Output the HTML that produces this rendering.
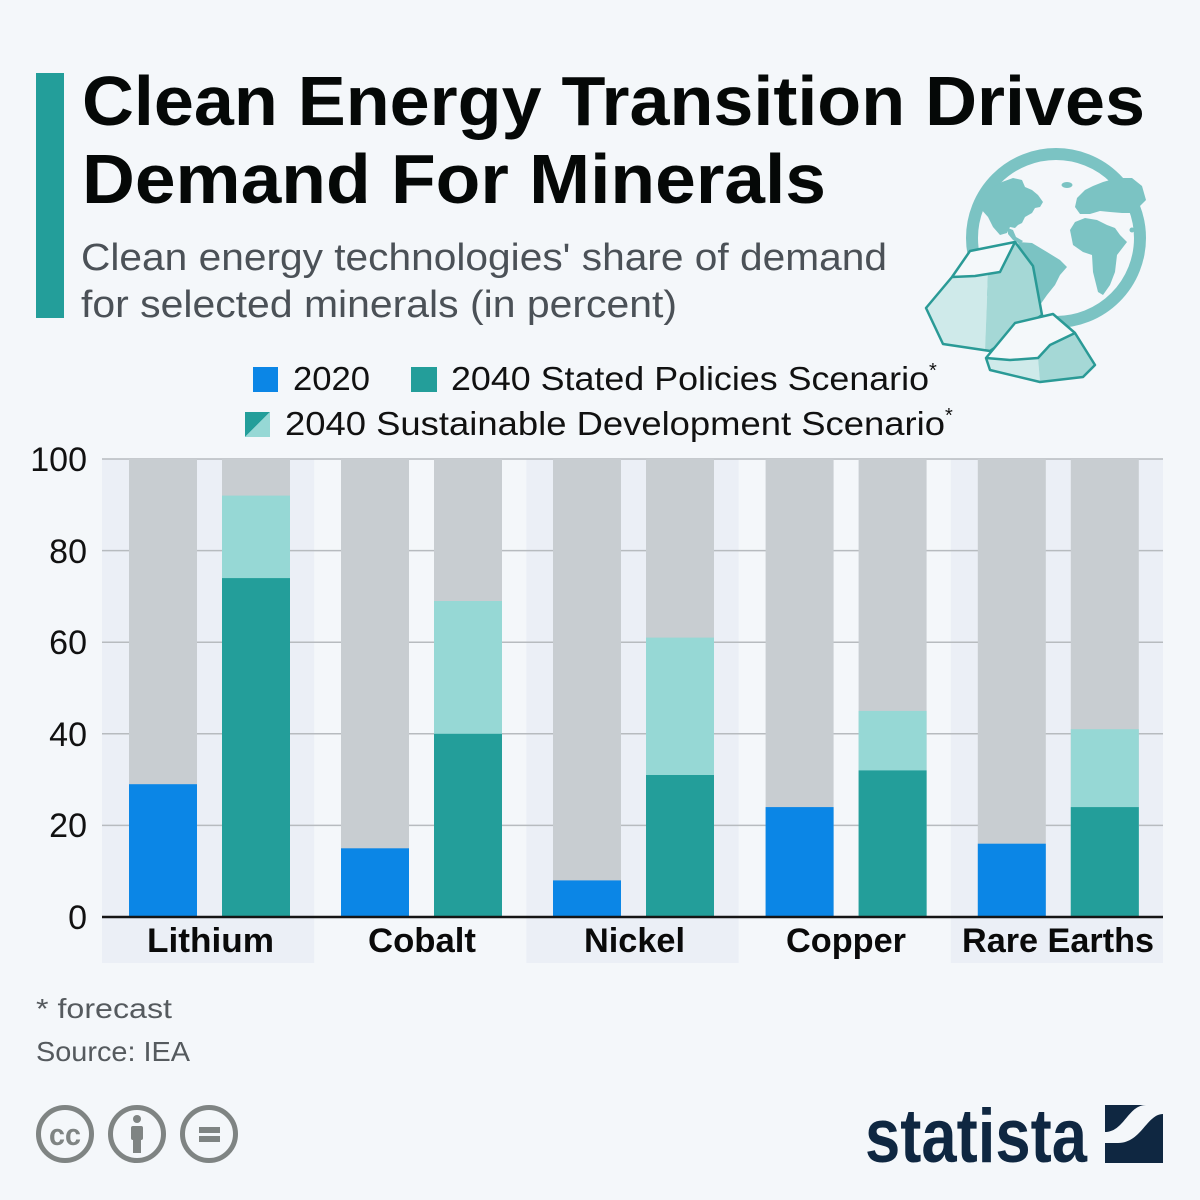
<!DOCTYPE html>
<html>
<head>
<meta charset="utf-8">
<style>
html,body{margin:0;padding:0;background:#f4f7fa;}
svg{display:block;}
text{font-family:"Liberation Sans",sans-serif;}
</style>
</head>
<body>
<svg width="1200" height="1200" viewBox="0 0 1200 1200" xmlns="http://www.w3.org/2000/svg">
<rect x="0" y="0" width="1200" height="1200" fill="#f4f7fa"/>

<!-- Title block -->
<rect x="36" y="73" width="28" height="245" fill="#239e9a"/>
<text x="82" y="125" font-size="70" font-weight="bold" fill="#050807" textLength="1063" lengthAdjust="spacingAndGlyphs">Clean Energy Transition Drives</text>
<text x="82" y="203" font-size="70" font-weight="bold" fill="#050807" textLength="744" lengthAdjust="spacingAndGlyphs">Demand For Minerals</text>
<text x="81" y="270" font-size="38" fill="#4b5157" textLength="806" lengthAdjust="spacingAndGlyphs">Clean energy technologies' share of demand</text>
<text x="81" y="317" font-size="38" fill="#4b5157" textLength="596" lengthAdjust="spacingAndGlyphs">for selected minerals (in percent)</text>

<!-- Globe -->
<g>
  <circle cx="1056" cy="238" r="84" fill="none" stroke="#7bc3c3" stroke-width="12"/>
  <g fill="#7bc3c3">
    <!-- North America -->
    <path d="M1002,182 L1013,178 L1022,180 L1025,187 L1032,190 L1038,195 L1043,202 L1040,207 L1035,208 L1032,213 L1025,217 L1022,223 L1018,225 L1015,228 L1010,227 L1007,233 L1000,235 L993,227 L988,217 L980,208 L982,196 L992,188 Z"/>
    <!-- Central America -->
    <path d="M1008,228 L1013,230 L1016,237 L1023,241 L1020,244 L1013,240 L1008,234 Z"/>
    <!-- Greenland pill -->
    <ellipse cx="1067" cy="185" rx="5.5" ry="3"/>
    <!-- South America -->
    <path d="M1018,242 L1032,243 L1047,252 L1060,260 L1067,267 L1060,275 L1055,285 L1047,295 L1040,305 L1034,300 L1030,280 L1027,262 L1020,252 Z"/>
    <!-- Eurasia -->
    <path d="M1077,198 L1085,190 L1093,186 L1103,182 L1117,178 L1132,178 L1142,186 L1146,200 L1140,206 L1133,213 L1122,213 L1110,212 L1100,211 L1090,214 L1080,214 L1075,207 Z"/>
    <!-- Africa -->
    <path d="M1070,230 L1075,222 L1085,218 L1097,220 L1107,225 L1115,228 L1120,235 L1127,242 L1117,255 L1115,272 L1110,285 L1103,295 L1098,292 L1093,272 L1092,255 L1083,252 L1073,245 Z"/>
    <circle cx="1132" cy="230" r="2.5"/>
  </g>
</g>

<!-- Rocks -->
<g stroke-linejoin="round">
  <polygon points="952,277 970,251 1015,242 1010,258 1000,272 975,276" fill="#f4f8fa"/>
  <polygon points="926,308 952,277 975,276 988,274 985,350 943,344" fill="#cfeaea"/>
  <polygon points="988,274 1000,272 1015,242 1033,266 1042,315 990,351 985,350" fill="#a5d8d6"/>
  <polyline points="952,277 975,276 1000,272 1015,242" fill="none" stroke="#2a9a96" stroke-width="2.5"/>
  <polygon points="926,308 952,277 970,251 1015,242 1033,266 1042,315 990,351 943,344" fill="none" stroke="#2a9a96" stroke-width="2.5"/>

  <polygon points="986,358 1015,323 1053,314 1075,333 1050,345 1038,358 1010,360" fill="#f4f8fa"/>
  <polygon points="990,370 986,358 1010,360 1038,358 1040,382" fill="#cfeaea"/>
  <polygon points="1038,358 1050,345 1075,333 1095,365 1083,377 1040,382" fill="#a5d8d6"/>
  <polyline points="986,358 1010,360 1038,358 1050,345 1075,333" fill="none" stroke="#2a9a96" stroke-width="2.5"/>
  <polygon points="986,358 1015,323 1053,314 1075,333 1095,365 1083,377 1040,382 990,370" fill="none" stroke="#2a9a96" stroke-width="2.5"/>
</g>

<!-- Legend -->
<rect x="253" y="367" width="25" height="25" fill="#0b86e6"/>
<text x="293" y="390" font-size="33" fill="#111" textLength="77" lengthAdjust="spacingAndGlyphs">2020</text>
<rect x="411" y="367" width="26" height="25" fill="#239e9a"/>
<text x="451" y="390" font-size="33" fill="#111" textLength="478" lengthAdjust="spacingAndGlyphs">2040 Stated Policies Scenario</text>
<text x="929" y="377" font-size="20" fill="#111">*</text>
<polygon points="245,412 270,412 245,437" fill="#239e9a"/>
<polygon points="270,412 270,437 245,437" fill="#96d8d5"/>
<text x="285" y="435" font-size="33" fill="#111" textLength="660" lengthAdjust="spacingAndGlyphs">2040 Sustainable Development Scenario</text>
<text x="945" y="422" font-size="20" fill="#111">*</text>

<!-- Category bands -->
<rect x="102" y="459" width="212.2" height="504" fill="#ebeff6"/>
<rect x="526.4" y="459" width="212.2" height="504" fill="#ebeff6"/>
<rect x="950.8" y="459" width="212.2" height="504" fill="#ebeff6"/>

<!-- Gridlines -->
<g stroke="#b7bbbf" stroke-width="1.5">
  <line x1="102" y1="459" x2="1163" y2="459"/>
  <line x1="102" y1="550.6" x2="1163" y2="550.6"/>
  <line x1="102" y1="642.2" x2="1163" y2="642.2"/>
  <line x1="102" y1="733.8" x2="1163" y2="733.8"/>
  <line x1="102" y1="825.4" x2="1163" y2="825.4"/>
</g>

<!-- Bars: gray backgrounds -->
<g fill="#c8cdd1">
  <rect x="129" y="459" width="68" height="458"/>
  <rect x="222" y="459" width="68" height="458"/>
  <rect x="341" y="459" width="68" height="458"/>
  <rect x="434" y="459" width="68" height="458"/>
  <rect x="553" y="459" width="68" height="458"/>
  <rect x="646" y="459" width="68" height="458"/>
  <rect x="765.6" y="459" width="68" height="458"/>
  <rect x="858.6" y="459" width="68" height="458"/>
  <rect x="977.8" y="459" width="68" height="458"/>
  <rect x="1070.8" y="459" width="68" height="458"/>
</g>
<!-- SDS light teal -->
<g fill="#96d8d5">
  <rect x="222" y="495.6" width="68" height="421.4"/>
  <rect x="434" y="601" width="68" height="316"/>
  <rect x="646" y="637.6" width="68" height="279.4"/>
  <rect x="858.6" y="710.9" width="68" height="206.1"/>
  <rect x="1070.8" y="729.2" width="68" height="187.8"/>
</g>
<!-- SPS teal -->
<g fill="#239e9a">
  <rect x="222" y="578.1" width="68" height="338.9"/>
  <rect x="434" y="733.8" width="68" height="183.2"/>
  <rect x="646" y="775" width="68" height="142"/>
  <rect x="858.6" y="770.4" width="68" height="146.6"/>
  <rect x="1070.8" y="807.1" width="68" height="109.9"/>
</g>
<!-- 2020 blue -->
<g fill="#0b86e6">
  <rect x="129" y="784.2" width="68" height="132.8"/>
  <rect x="341" y="848.3" width="68" height="68.7"/>
  <rect x="553" y="880.4" width="68" height="36.6"/>
  <rect x="765.6" y="807.1" width="68" height="109.9"/>
  <rect x="977.8" y="843.7" width="68" height="73.3"/>
</g>

<!-- Axis line -->
<line x1="102" y1="917" x2="1163" y2="917" stroke="#151515" stroke-width="2.5"/>

<!-- Y labels -->
<g font-size="34" fill="#111" text-anchor="end">
  <text x="87" y="471">100</text>
  <text x="87" y="563">80</text>
  <text x="87" y="654">60</text>
  <text x="87" y="746">40</text>
  <text x="87" y="837">20</text>
  <text x="87" y="929">0</text>
</g>

<!-- Category labels -->
<g font-size="34" font-weight="bold" fill="#0a0a0a">
  <text x="147" y="952" textLength="127" lengthAdjust="spacingAndGlyphs">Lithium</text>
  <text x="368" y="952" textLength="108" lengthAdjust="spacingAndGlyphs">Cobalt</text>
  <text x="584" y="952" textLength="101" lengthAdjust="spacingAndGlyphs">Nickel</text>
  <text x="786" y="952" textLength="120" lengthAdjust="spacingAndGlyphs">Copper</text>
  <text x="962" y="952" textLength="192" lengthAdjust="spacingAndGlyphs">Rare Earths</text>
</g>

<!-- Footer notes -->
<text x="36" y="1018" font-size="28" fill="#555a5e" textLength="136" lengthAdjust="spacingAndGlyphs">* forecast</text>
<text x="36" y="1061" font-size="28" fill="#555a5e" textLength="154" lengthAdjust="spacingAndGlyphs">Source: IEA</text>

<!-- CC icons -->
<g stroke="#7f8483" stroke-width="5" fill="none">
  <circle cx="65" cy="1134" r="26.5"/>
  <circle cx="137" cy="1134" r="26.5"/>
  <circle cx="209" cy="1134" r="26.5"/>
</g>
<text x="65" y="1145" font-size="31" font-weight="bold" fill="#7f8483" text-anchor="middle" textLength="32" lengthAdjust="spacingAndGlyphs">cc</text>
<g fill="#7f8483">
  <circle cx="137" cy="1119" r="4"/>
  <rect x="131" y="1126" width="12" height="14" rx="2"/>
  <rect x="133" y="1138" width="8" height="15"/>
  <rect x="199" y="1127" width="21" height="6"/>
  <rect x="199" y="1136" width="21" height="6"/>
</g>

<!-- Statista logo -->
<text x="865" y="1162" font-size="76" font-weight="bold" fill="#0f2741" textLength="222" lengthAdjust="spacingAndGlyphs">statista</text>
<rect x="1105" y="1105" width="58" height="58" fill="#0f2741"/>
<path d="M1105,1132 C1124,1132 1128,1105 1146,1105 L1163,1105 L1163,1114 C1147,1114 1141,1143 1118,1143 L1105,1143 Z" fill="#f4f7fa"/>
</svg>
</body>
</html>
